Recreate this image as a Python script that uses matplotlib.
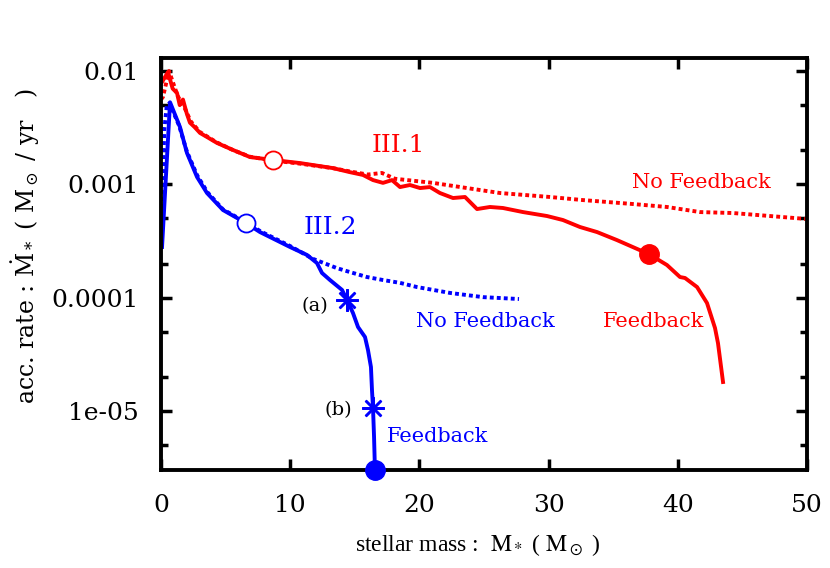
import matplotlib
matplotlib.use("Agg")
import matplotlib.pyplot as plt
from matplotlib.ticker import FixedLocator, NullFormatter

# ---------------- data ----------------
red_fb_x = [0.08, 0.54, 0.9, 1.24, 1.45, 1.70, 2.0, 2.24, 2.6, 3.02, 3.6, 4.33, 5.57, 6.89, 8.67,
            10.76, 13.31, 14.63, 15.63, 16.41, 17.18, 17.88, 18.50, 19.27, 20.05, 20.82, 21.59,
            22.60, 23.53, 24.46, 25.46, 26.47, 28.02, 29.88, 31.11, 32.43, 33.75, 35.29, 37.77,
            39.16, 40.17, 40.56, 41.49, 42.26, 42.88, 43.11, 43.50]
red_fb_y = [8.0e-3, 9.8e-3, 7.0e-3, 6.4e-3, 5.0e-3, 5.6e-3, 4.2e-3, 3.5e-3, 3.2e-3, 2.84e-3, 2.6e-3,
            2.32e-3, 2.01e-3, 1.74e-3, 1.64e-3, 1.54e-3, 1.39e-3, 1.28e-3, 1.21e-3, 1.09e-3, 1.03e-3,
            1.09e-3, 9.46e-4, 9.86e-4, 9.27e-4, 9.46e-4, 8.38e-4, 7.57e-4, 7.73e-4, 6.05e-4, 6.31e-4,
            6.18e-4, 5.69e-4, 5.25e-4, 4.84e-4, 4.20e-4, 3.79e-4, 3.22e-4, 2.42e-4, 1.94e-4, 1.52e-4,
            1.49e-4, 1.24e-4, 8.96e-5, 5.39e-5, 3.97e-5, 1.80e-5]

red_nofb_x = [0.0, 0.15, 0.62, 1.0, 1.3, 1.8, 2.3, 3.0, 4.3, 5.6, 6.9, 8.7, 10.8, 13.3, 14.6, 16.0,
              17.1, 18.1, 21.05, 23.68, 26.24, 30.11, 32.66, 36.53, 39.16, 41.72, 44.27, 50.0]
red_nofb_y = [5.6e-3, 5.9e-3, 1.0e-2, 7.5e-3, 6.0e-3, 4.8e-3, 3.6e-3, 2.9e-3, 2.35e-3, 2.0e-3,
              1.75e-3, 1.62e-3, 1.52e-3, 1.39e-3, 1.30e-3, 1.22e-3, 1.26e-3, 1.12e-3, 1.03e-3,
              9.27e-4, 8.38e-4, 7.73e-4, 7.26e-4, 6.70e-4, 6.31e-4, 5.69e-4, 5.58e-4, 4.94e-4]

blue_fb_x = [0.08, 0.70, 1.47, 2.01, 2.79, 3.56, 4.80, 6.58, 7.66, 9.98, 11.30, 12.07, 12.46, 13.08,
             14.01, 14.40, 14.86, 15.25, 15.79, 16.02, 16.25, 16.33, 16.41, 16.49, 16.56]
blue_fb_y = [2.8e-4, 5.3e-3, 3.2e-3, 1.89e-3, 1.16e-3, 8.38e-4, 5.93e-4, 4.55e-4, 3.79e-4, 2.80e-4,
             2.38e-4, 2.02e-4, 1.65e-4, 1.43e-4, 1.17e-4, 9.53e-5, 7.31e-5, 5.50e-5, 4.49e-5,
             3.45e-5, 2.44e-5, 1.53e-5, 1.06e-5, 5.89e-6, 3.0e-6]

blue_nofb_x = [0.05, 0.25, 0.45, 0.65, 1.4, 2.0, 2.8, 3.6, 4.8, 6.6, 7.7, 10.0, 11.76, 13.62, 14.63,
               15.94, 17.18, 18.5, 19.81, 22.37, 24.92, 27.71]
blue_nofb_y = [3.5e-4, 3.0e-3, 5.0e-3, 5.2e-3, 3.3e-3, 1.95e-3, 1.2e-3, 8.5e-4, 6.0e-4, 4.6e-4,
               3.85e-4, 2.85e-4, 2.2e-4, 1.82e-4, 1.68e-4, 1.52e-4, 1.43e-4, 1.35e-4, 1.24e-4,
               1.10e-4, 1.01e-4, 9.72e-5]

red_open = (8.67, 1.64e-3)
red_filled = (37.77, 2.42e-4)
blue_open = (6.58, 4.55e-4)
blue_filled = (16.56, 3.0e-6)
stars_x = [14.40, 16.41]
stars_y = [9.53e-5, 1.06e-5]

x_ticks = [0, 10, 20, 30, 40, 50]
y_ticks = [1e-5, 1e-4, 1e-3, 1e-2]
y_tick_labels = ["1e-05", "0.0001", "0.001", "0.01"]
y_minor = [5e-6, 2e-5, 5e-5, 2e-4, 5e-4, 2e-3, 5e-3]

# ---------------- figure ----------------
RED = "#ff0000"
BLUE = "#0000ff"
fig = plt.figure(figsize=(8.3, 5.68), dpi=100)
ax = fig.add_axes([161/830, 1 - 470/568, (807-161)/830, (470-58)/568])
ax.set_yscale("log")
ax.set_xlim(0, 50)
ax.set_ylim(3.01e-6, 1.303e-2)

lw = 2.8
ax.plot(red_nofb_x, red_nofb_y, color=RED, lw=lw, linestyle=(0, (1.0, 0.8)))
ax.plot(red_fb_x, red_fb_y, color=RED, lw=lw)
ax.plot(blue_nofb_x, blue_nofb_y, color=BLUE, lw=lw, linestyle=(0, (1.0, 0.8)))
ax.plot(blue_fb_x, blue_fb_y, color=BLUE, lw=lw)

ax.plot(*red_open, 'o', ms=13, mfc='white', mec=RED, mew=1.3, zorder=5)
ax.plot(*red_filled, 'o', ms=14, mfc=RED, mec=RED, zorder=5)
ax.plot(*blue_open, 'o', ms=13, mfc='white', mec=BLUE, mew=1.3, zorder=5)
ax.plot(*blue_filled, 'o', ms=14, mfc=BLUE, mec=BLUE, zorder=10, clip_on=False)
ax.plot(stars_x, stars_y, linestyle='none', marker=(8, 2, 0), ms=16, mec=BLUE, mew=1.8, zorder=6)

tf = "DejaVu Serif"
ax.text(18.4, 2.22e-3, "III.1", color=RED, fontsize=18, family=tf, ha='center', va='center')
ax.text(13.08, 4.2e-4, "III.2", color=BLUE, fontsize=18, family=tf, ha='center', va='center')
ax.text(41.8, 1.03e-3, "No Feedback", color=RED, fontsize=15, family=tf, ha='center', va='center')
ax.text(38.16, 6.1e-5, "Feedback", color=RED, fontsize=15, family=tf, ha='center', va='center')
ax.text(25.08, 6.1e-5, "No Feedback", color=BLUE, fontsize=15, family=tf, ha='center', va='center')
ax.text(21.44, 5.89e-6, "Feedback", color=BLUE, fontsize=15, family=tf, ha='center', va='center')
ax.text(11.92, 8.43e-5, "(a)", color='black', fontsize=14, family=tf, ha='center', va='center')
ax.text(13.70, 1.02e-5, "(b)", color='black', fontsize=14, family=tf, ha='center', va='center')

# axes styling
for s in ax.spines.values():
    s.set_linewidth(2.8)
ax.xaxis.set_major_locator(FixedLocator(x_ticks))
ax.set_xticklabels([str(v) for v in x_ticks])
ax.yaxis.set_major_locator(FixedLocator(y_ticks))
ax.set_yticklabels(y_tick_labels)
ax.yaxis.set_minor_locator(FixedLocator(y_minor))
ax.yaxis.set_minor_formatter(NullFormatter())
ax.tick_params(which='both', direction='in', top=True, right=True, width=2.5, color='black')
ax.tick_params(which='major', length=8, labelsize=18)
ax.tick_params(axis='y', which='major', pad=16)
ax.tick_params(axis='x', which='major', pad=17)
ax.tick_params(which='minor', length=5)
for lab in ax.get_xticklabels() + ax.get_yticklabels():
    lab.set_family(tf)

ax.set_xlabel(r'stellar mass :  $\mathrm{M}_*$ ( $\mathrm{M}_\odot$ )', fontsize=17,
              family="Liberation Serif", math_fontfamily='stix')
ax.xaxis.set_label_coords(0.49, -(532 - 470) / 412, transform=ax.transAxes)
ax.set_ylabel(r'acc. rate : $\dot{\mathrm{M}}_*$ ( $\mathrm{M}_\odot$ / yr   )', fontsize=17,
              family=tf, math_fontfamily='dejavuserif')
ax.yaxis.set_label_coords((42 - 161) / 646, (470 - 246) / 412, transform=ax.transAxes)

fig.savefig("out.png", dpi=100)
